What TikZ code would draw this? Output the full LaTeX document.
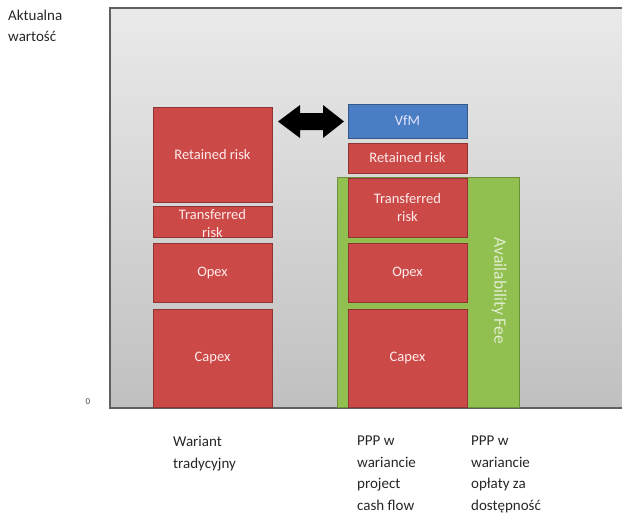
\documentclass[tikz,border=0pt]{standalone}
\usepackage{fontspec}
\setmainfont{Carlito}
\definecolor{redfill}{HTML}{CB4A48}
\definecolor{redborder}{HTML}{8E3432}
\definecolor{bluefill}{HTML}{4A7EC4}
\definecolor{blueborder}{HTML}{35598A}
\definecolor{greenfill}{HTML}{92C050}
\definecolor{greenborder}{HTML}{6E8F3C}
\definecolor{bgtop}{HTML}{EAEAEA}
\definecolor{bgbot}{HTML}{C0C0C0}
\begin{document}
\begin{tikzpicture}[x=1pt,y=-1pt,
  chartbg/.style={top color=bgtop, bottom color=bgbot, draw=gray!75!black, line width=1.2pt},
  redbox/.style={draw=redborder, line width=0.9pt, fill=redfill},
  bluebox/.style={draw=blueborder, line width=0.9pt, fill=bluefill},
  greenbox/.style={draw=greenborder, line width=0.9pt, fill=greenfill},
  lbl/.style={text=white!92!red, font=\fontsize{14.5}{18}\selectfont, align=center, inner sep=0pt},
  outer/.style={font=\fontsize{15}{21.5}\selectfont, align=left, anchor=north west, inner sep=0pt, text=black!85}]
\useasboundingbox (0,0) rectangle (622,515);

% chart area
\path[chartbg] (110,8) rectangle (628,408);
\node[font=\fontsize{9}{10}\selectfont, text=black!70] (zero) at (88,402) {0};

% axis and category labels
\node[outer] (yl) at (8,9.5) {Aktualna\\wartość};
\node[outer] (c1) at (173,436) {Wariant\\tradycyjny};
\node[outer] (c2) at (357,436) {PPP w\\wariancie\\project\\cash flow};
\node[outer] (c3) at (471,436) {PPP w\\wariancie\\opłaty za\\dostępność};

% left column: traditional variant
\path[redbox] (153,107) rectangle (272,202);
\coordinate (lret) at (212.5,154.5);
\path[redbox] (153,206) rectangle (272,237);
\coordinate (ltr) at (212.5,224);
\path[redbox] (153,243) rectangle (272,302);
\coordinate (lop) at (212.5,272.5);
\path[redbox] (153,309) rectangle (272,407);
\coordinate (lcap) at (212.5,358);
\node[lbl] (lretT) at (lret) {Retained risk};
\node[lbl] (ltrT) at (ltr) {Transferred\\risk};
\node[lbl] (lopT) at (lop) {Opex};
\node[lbl] (lcapT) at (lcap) {Capex};

% green availability fee box
\path[greenbox] (337,177) rectangle (519,407);
\node[text=white!72!greenfill, font=\fontsize{17.5}{20}\selectfont, rotate=-90, inner sep=0pt] (af) at (499,291) {Availability Fee};

% middle column: PPP project cash flow
\path[bluebox] (348,104) rectangle (467,138);
\path[redbox] (348,143) rectangle (467,173);
\path[redbox] (348,178) rectangle (467,237);
\path[redbox] (348,243) rectangle (467,302);
\path[redbox] (348,309) rectangle (467,407);
\node[lbl, text=white!90!blue] (vfm) at (407.5,121) {VfM};
\node[lbl] (mret) at (407.5,158) {Retained risk};
\node[lbl] (mtr) at (407.5,208) {Transferred\\risk};
\node[lbl] (mop) at (407.5,272.5) {Opex};
\node[lbl] (mcap) at (407.5,358) {Capex};

% double block arrow
\fill[black] (278,121.5) -- (300,105) -- (300,113) -- (323,113) -- (323,105)
  -- (344,121.5) -- (323,138) -- (323,130) -- (300,130) -- (300,138) -- cycle;
\end{tikzpicture}
\end{document}
